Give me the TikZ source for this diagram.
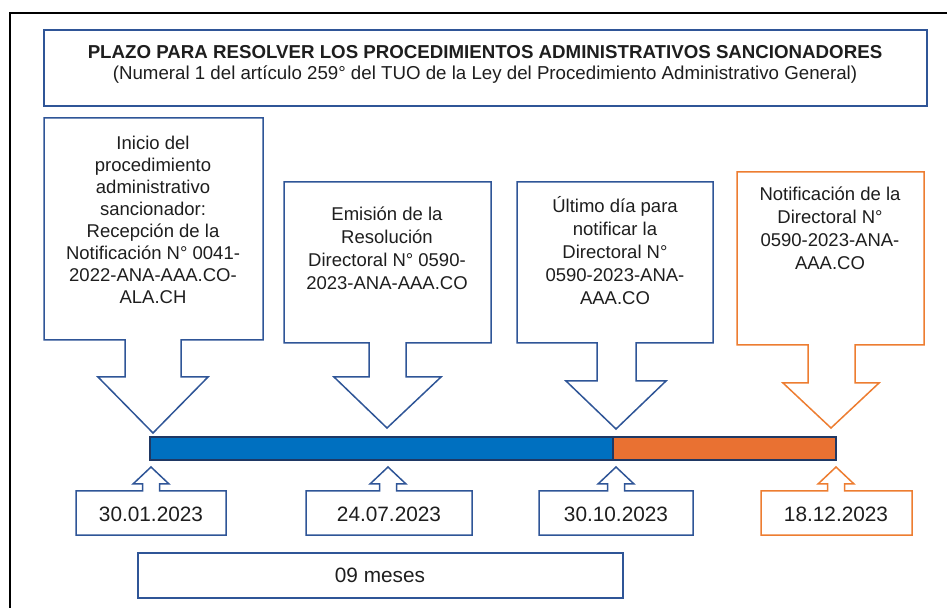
\documentclass[tikz,border=0pt]{standalone}
\usepackage{fontspec}
\setmainfont{Liberation Sans}

\definecolor{boxblue}{RGB}{47,85,151}
\definecolor{boxorange}{RGB}{237,125,49}
\definecolor{barblue}{RGB}{0,112,192}
\definecolor{barorange}{RGB}{233,113,50}
\definecolor{barline}{RGB}{31,56,100}
\definecolor{ink}{RGB}{30,30,30}

\tikzset{
  shapeblue/.style = {draw=boxblue, line width=0.75pt, fill=white},
  shapeorange/.style = {draw=boxorange, line width=0.75pt, fill=white},
  boxtext/.style = {align=center, text=ink, inner sep=0pt, font=\fontsize{9.25}{11.5}\selectfont},
  datetext/.style = {text=ink, inner sep=0pt, font=\fontsize{10.4}{12}\selectfont},
  titletext/.style = {text=ink, inner sep=0pt, font=\fontsize{9.35}{11}\selectfont}
}

\begin{document}
\begin{tikzpicture}[x=0.5pt, y=-0.5pt]
	\useasboundingbox (0,0) rectangle (947,608);
	\draw[line width=1pt] (947,13) -- (10,13) -- (10,608);

	\draw[shapeblue] (44,30) rectangle (927,106);
	\node[titletext, font=\fontsize{9.35}{11}\selectfont\bfseries] (titulo) at (485,52) {PLAZO PARA RESOLVER LOS PROCEDIMIENTOS ADMINISTRATIVOS SANCIONADORES};
	\node[titletext] (subtitulo) at (485,75) {(Numeral 1 del artículo 259° del TUO de la Ley del Procedimiento Administrativo General)};

	\draw[shapeblue] (44,118) -- (263,118) -- (263,340) -- (181,340) -- (181,377) -- (208,377) -- (153,433) -- (98,377) -- (125,377) -- (125,340) -- (44,340) -- cycle;
	\draw[shapeblue] (284,182) -- (491,182) -- (491,343) -- (406,343) -- (406,377) -- (441,377) -- (387,428) -- (334,377) -- (369,377) -- (369,343) -- (284,343) -- cycle;
	\draw[shapeblue] (517,182) -- (713,182) -- (713,343) -- (636,343) -- (636,381) -- (666,381) -- (616,429) -- (566,381) -- (597,381) -- (597,343) -- (517,343) -- cycle;
	\draw[shapeorange] (737,172) -- (924,172) -- (924,345) -- (855,345) -- (855,383) -- (879,383) -- (831,428) -- (783,383) -- (808,383) -- (808,345) -- (737,345) -- cycle;

	\node[boxtext, font=\fontsize{9.25}{11}\selectfont] (inicio) at (153,220) {Inicio del\\procedimiento\\administrativo\\sancionador:\\Recepción de la\\Notificación N° 0041-\\2022-ANA-AAA.CO-\\ALA.CH};
	\node[boxtext] (emision) at (387,248) {Emisión de la\\Resolución\\Directoral N° 0590-\\2023-ANA-AAA.CO};
	\node[boxtext] (ultimo) at (615,251) {Último día para\\notificar la\\Directoral N°\\0590-2023-ANA-\\AAA.CO};
	\node[boxtext] (notificacion) at (830,228) {Notificación de la\\Directoral N°\\0590-2023-ANA-\\AAA.CO};

	\fill[barblue] (150,437) rectangle (613,460);
	\fill[barorange] (613,437) rectangle (836,460);
	\draw[barline, line width=0.6pt] (150,437) rectangle (836,460);
	\draw[barline, line width=0.6pt] (613,437) -- (613,460);

	\draw[shapeblue] (76,491) -- (142.5,491) -- (142.5,484) -- (133,484) -- (151,467) -- (169,484) -- (159.5,484) -- (159.5,491) -- (226,491) -- (226,535) -- (76,535) -- cycle;
	\draw[shapeblue] (306,491) -- (379.5,491) -- (379.5,484) -- (370,484) -- (388,467) -- (406,484) -- (396.5,484) -- (396.5,491) -- (472,491) -- (472,535) -- (306,535) -- cycle;
	\draw[shapeblue] (539,491) -- (607.5,491) -- (607.5,484) -- (598,484) -- (616,467) -- (634,484) -- (624.5,484) -- (624.5,491) -- (693,491) -- (693,535) -- (539,535) -- cycle;
	\draw[shapeorange] (761,491) -- (827.5,491) -- (827.5,484) -- (818,484) -- (836,467) -- (854,484) -- (844.5,484) -- (844.5,491) -- (912,491) -- (912,535) -- (761,535) -- cycle;

	\node[datetext] (fecha1) at (151,514) {30.01.2023};
	\node[datetext] (fecha2) at (389,514) {24.07.2023};
	\node[datetext] (fecha3) at (616,514) {30.10.2023};
	\node[datetext] (fecha4) at (836,514) {18.12.2023};

	\draw[shapeblue] (138,553) rectangle (623,598);
	\node[datetext] (plazo) at (380,575) {09 meses};
\end{tikzpicture}
\end{document}
